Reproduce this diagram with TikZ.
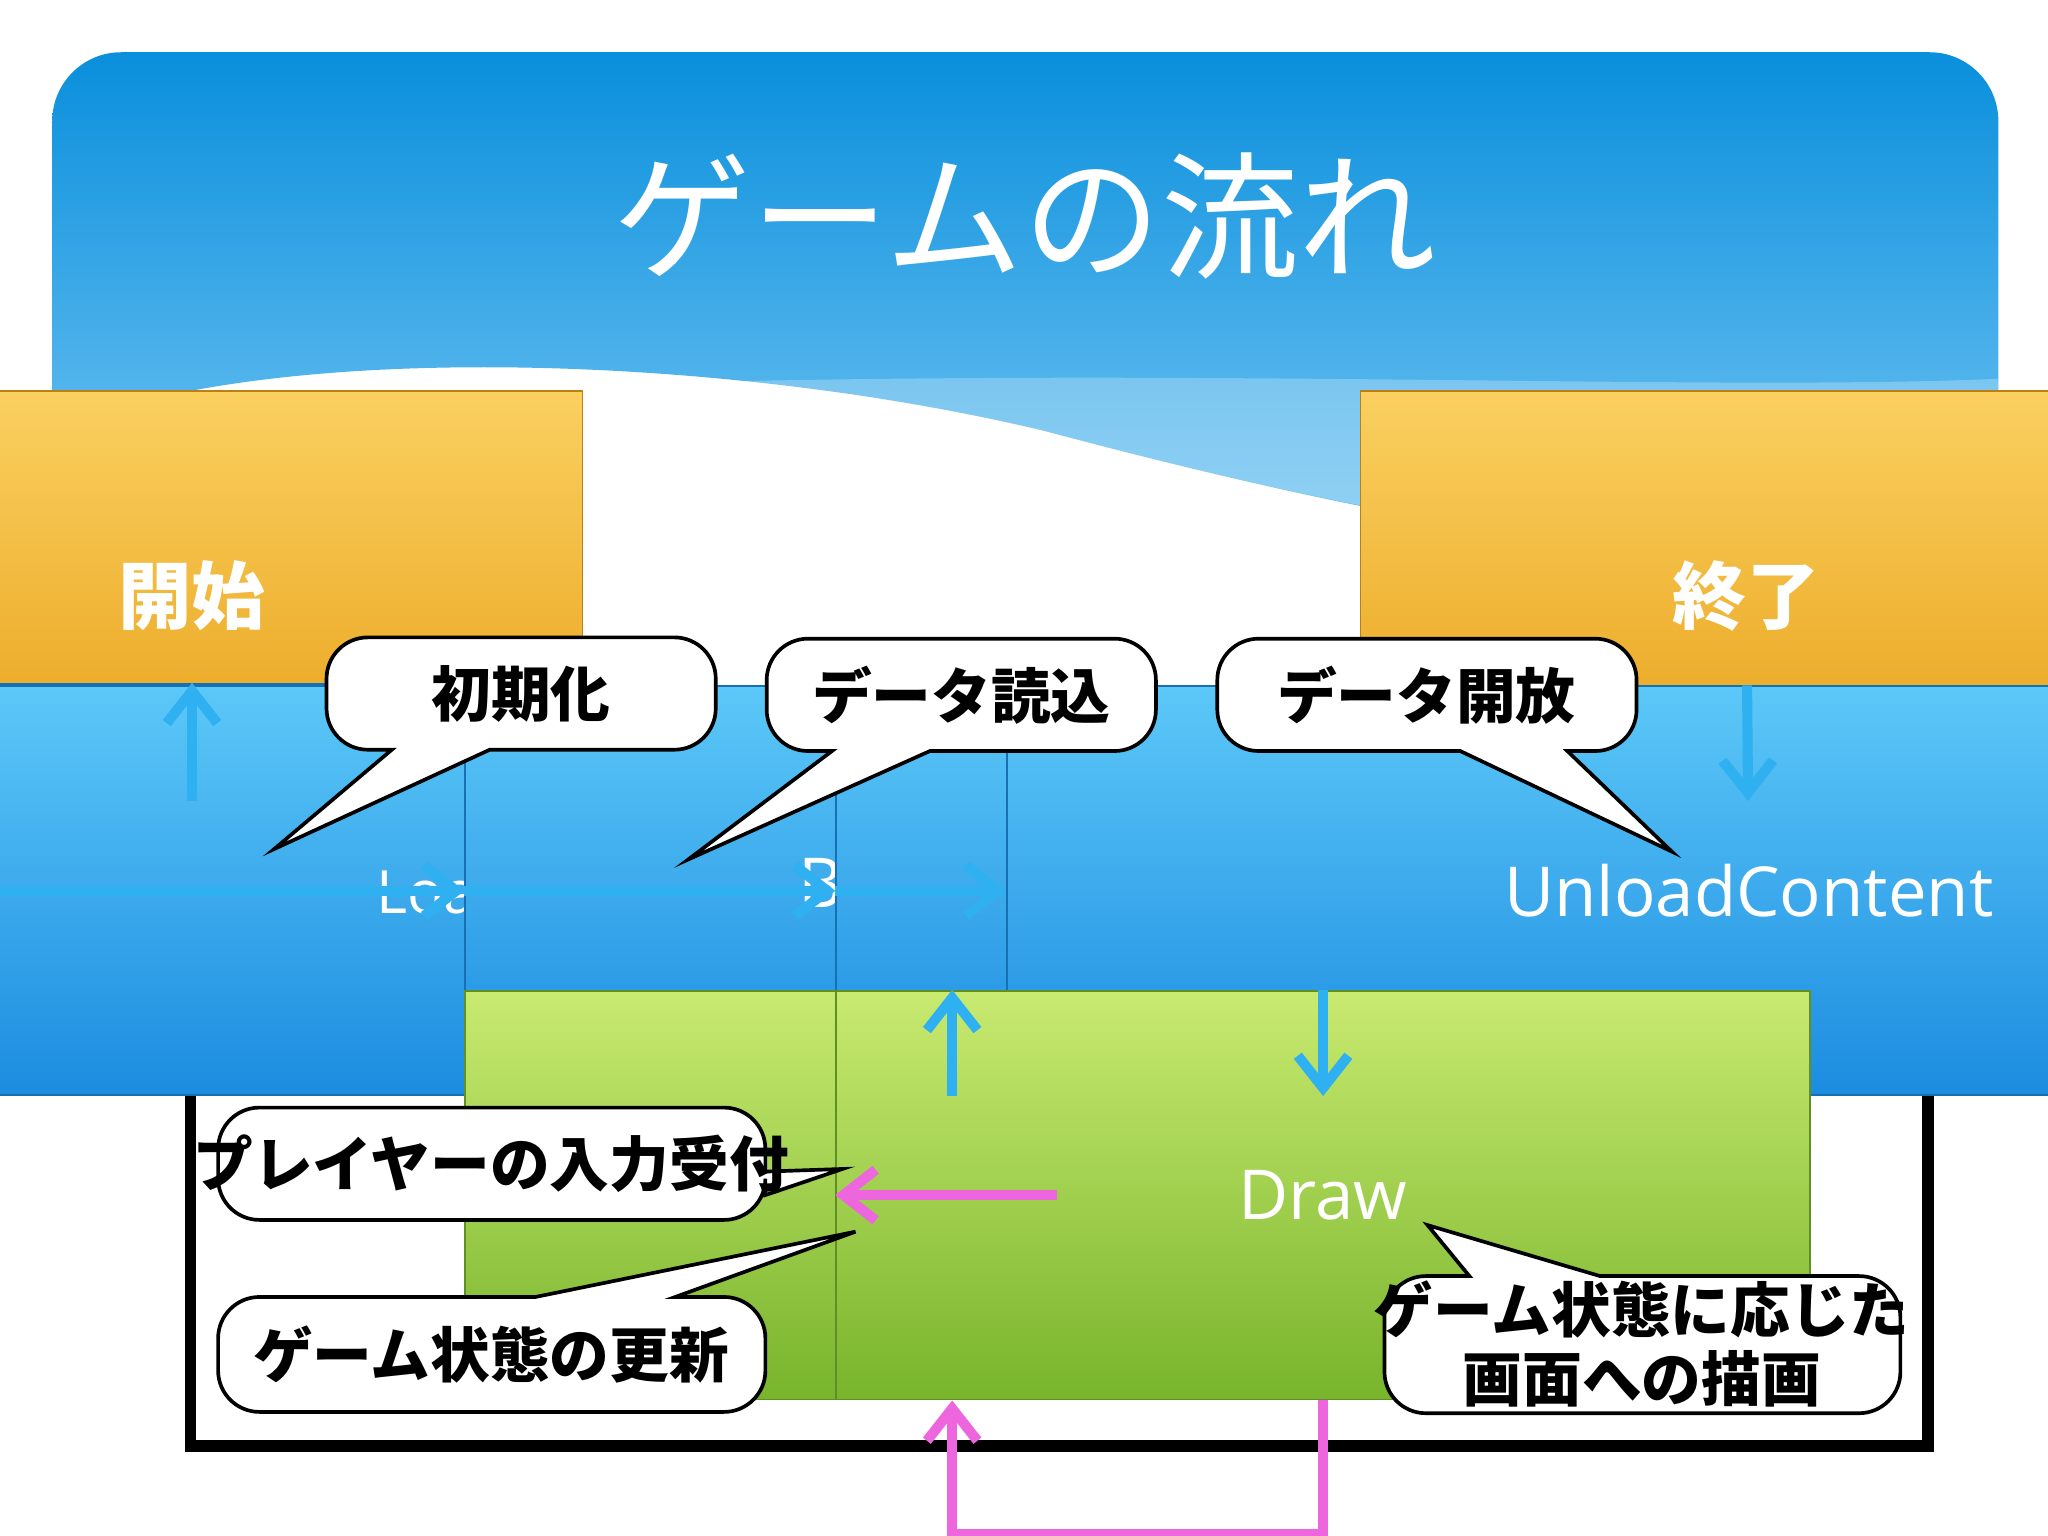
\documentclass[tikz,border=0pt]{standalone}
\usepackage{fontspec}
\setmainfont{Open Sans}
\newfontfamily\jp{Noto Sans CJK JP}
\usetikzlibrary{arrows.meta,positioning,calc}
\definecolor{skyA}{HTML}{0A8FDC}
\definecolor{skyB}{HTML}{7CCAF5}
\definecolor{boxA}{HTML}{5CC8F8}
\definecolor{boxB}{HTML}{1C8CE0}
\definecolor{grnA}{HTML}{C8EA70}
\definecolor{grnB}{HTML}{78B42C}
\definecolor{orgA}{HTML}{FAD060}
\definecolor{orgB}{HTML}{E8A018}
\definecolor{loop}{HTML}{EE66DD}
\definecolor{flow}{HTML}{2FB0F0}
\tikzset{
  stage/.style={draw=boxB!80!black, top color=boxA, bottom color=boxB, text=white,
    font=\fontsize{15}{17}\selectfont, minimum height=89, inner sep=0pt},
  game/.style={stage, draw=grnB!80!black, top color=grnA, bottom color=grnB},
  term/.style={stage, draw=orgB!80!black, top color=orgA, bottom color=orgB,
    font=\jp\bfseries\fontsize{16}{18}\selectfont, minimum width=170},
  tip/.style={draw=black, thick, fill=white},
  say/.style={font=\jp\bfseries\fontsize{13}{15}\selectfont, align=center},
  go/.style={-{Straight Barb[length=7pt,width=11pt]}, draw=flow, line width=2.2pt},
  lp/.style={go, draw=loop}
}
\begin{document}
\begin{tikzpicture}[x=0.01cm,y=-0.01cm]
  \useasboundingbox (0,0) rectangle (1568,1176);
  % header
  \shade[top color=skyA, bottom color=skyB, rounded corners=15]
    (40,330) -- (40,40) -- (1530,40) -- (1530,390)
    [sharp corners] .. controls (1350,450) and (1100,410) .. (800,330)
    .. controls (550,270) and (200,260) .. (40,330) -- cycle;
  \fill[white, opacity=0.25] (450,295) .. controls (900,280) and (1300,300) .. (1530,290)
    -- (1530,390) .. controls (1350,450) and (1100,410) .. (800,330)
    .. controls (650,295) and (550,290) .. (450,295) -- cycle;
  \node[text=white, font=\jp\fontsize{30}{34}\selectfont] (title) at (785,165) {ゲームの流れ};

  % loop frame
  \draw[loop, line width=2.5pt] (146,760) rectangle (1476,1107);
  \node[text=loop, font=\jp\fontsize{14}{16}\selectfont] (looplbl) at (288,793) {ゲームループ};

  % stages
  \node[term] (start) at (147,456) {開始};
  \node[term, minimum width=168] (stop) at (1337,456) {終了};
  \node[stage, minimum width=170, font=\fontsize{12}{14}\selectfont] (init) at (147,680) {Initialize};
  \node[stage, minimum width=248, font=\fontsize{13}{15}\selectfont] (load) at (426,682) {LoadContent};
  \node[stage, minimum width=212] (begin) at (729,682) {BeginRun};
  \node[stage, minimum width=212] (end) at (1013,682) {EndRun};
  \node[stage, minimum width=323] (unload) at (1339,682) {UnloadContent};
  \node[game, minimum width=212] (update) at (729,915) {Update};
  \node[game, minimum width=212] (draw) at (1013,915) {Draw};

  % callouts
  \draw[tip] (300,574) -- (210,650) -- (375,574) [rounded corners=9] -- (548,574) -- (548,488)
    -- (250,488) -- (250,574) [sharp corners] -- cycle;
  \node[say] (c1) at (399,531) {初期化};
  \draw[tip] (637,575) -- (527,658) -- (712,575) [rounded corners=9] -- (885,575) -- (885,489)
    -- (587,489) -- (587,575) [sharp corners] -- cycle;
  \node[say] (c2) at (736,532) {データ読込};
  \draw[tip] (1200,575) -- (1280,652) -- (1118,575) [rounded corners=9] -- (932,575) -- (932,489)
    -- (1253,489) -- (1253,575) [sharp corners] -- cycle;
  \node[say] (c3) at (1092,532) {データ開放};
  \draw[tip] (586,897) -- (645,895) -- (586,915) [rounded corners=9] -- (586,934) -- (167,934)
    -- (167,848) -- (586,848) [sharp corners] -- cycle;
  \node[say] (c4) at (376,891) {プレイヤーの入力受付};
  \draw[tip] (410,993) -- (655,943) -- (517,993) [rounded corners=9] -- (586,993) -- (586,1081)
    -- (167,1081) -- (167,993) [sharp corners] -- cycle;
  \node[say] (c5) at (376,1037) {ゲーム状態の更新};
  \draw[tip] (1125,977) -- (1093,938) -- (1225,977) [rounded corners=9] -- (1455,977) -- (1455,1082)
    -- (1060,1082) -- (1060,977) [sharp corners] -- cycle;
  \node[say] (c6) at (1257,1029) {ゲーム状態に応じた\\画面への描画};

  % flow
  \draw[go] (start) -- (init);
  \draw[go] (init) -- (load);
  \draw[go] (load) -- (begin);
  \draw[go] (begin) -- (end);
  \draw[go] (end) -- (unload);
  \draw[go] (unload) -- (stop);
  \draw[go] (begin) -- (update);
  \draw[go] (draw) -- (end);
  \draw[lp] ([xshift=0.8cm]update.center) -- (draw);
  \draw[lp] (draw.south) -- ++(0,102) -| (update.south);
\end{tikzpicture}
\end{document}
